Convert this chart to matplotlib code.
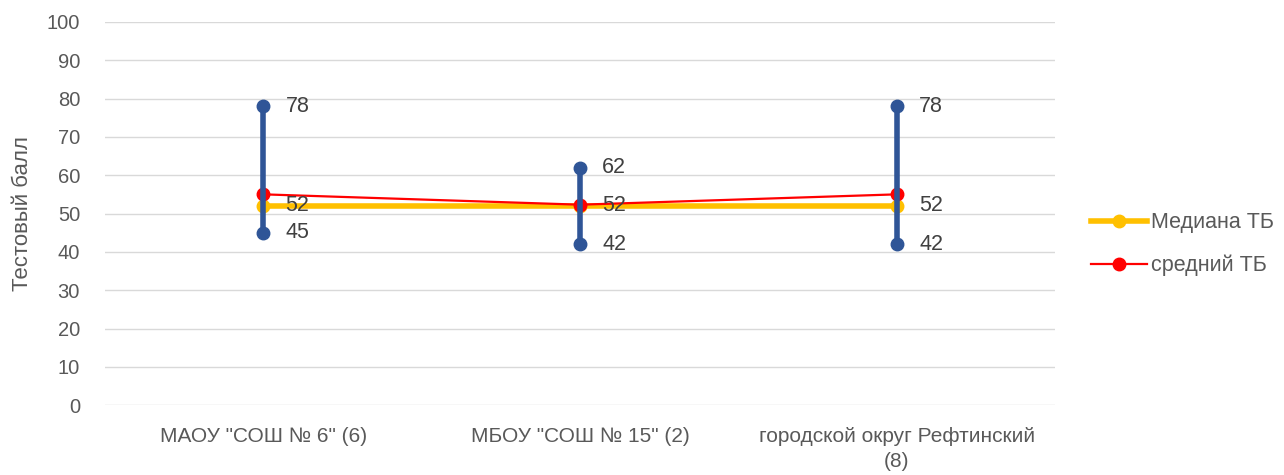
import matplotlib.pyplot as plt

plt.rcParams['font.family'] = ['Liberation Sans', 'DejaVu Sans']

categories = ['МАОУ "СОШ № 6" (6)', 'МБОУ "СОШ № 15" (2)', 'городской округ Рефтинский\n(8)']
max_tb = [78, 62, 78]
min_tb = [45, 42, 42]
median_tb = [52, 52, 52]
mean_tb = [55, 52.3, 55]

text_color = '#595959'
x = list(range(len(categories)))

fig = plt.figure(figsize=(12.84, 4.75), dpi=100)
ax = fig.add_axes([0.0818, 0.147, 0.740, 0.807])

# median and mean lines
ax.plot(x, median_tb, color='#ffc000', lw=4, marker='o', ms=9, zorder=3, label='Медиана ТБ')
ax.plot(x, mean_tb, color='#ff0000', lw=1.6, marker='o', ms=9, zorder=4, label='средний ТБ')

# high-low bars
for i in x:
    ax.plot([i, i], [min_tb[i], max_tb[i]], color='#2f5597', lw=4, marker='o', ms=9, zorder=5)
    for v in (max_tb[i], min_tb[i], median_tb[i]):
        ax.text(i + 0.07, v, str(v), fontsize=15.5, color='#404040', va='center', ha='left', zorder=6)

ax.set_xlim(-0.5, 2.5)
ax.set_ylim(0, 100)
ax.set_yticks(range(0, 101, 10))
ax.set_xticks(x)
ax.set_xticklabels(categories, fontsize=15, color=text_color, linespacing=1.4)
ax.tick_params(axis='y', labelsize=14.5, labelcolor=text_color, length=0, pad=18)
ax.tick_params(axis='x', length=0, pad=16)
ax.grid(axis='y', color='#d9d9d9', lw=1)
ax.set_axisbelow(True)
for s in ax.spines.values():
    s.set_visible(False)
ax.set_ylabel('Тестовый балл', fontsize=16, color=text_color, labelpad=10)

ax.legend(loc='center left', bbox_to_anchor=(1.017, 0.42), frameon=False, fontsize=15.5,
          labelcolor=text_color, handlelength=2.6, handletextpad=0.2, labelspacing=1.0)

plt.savefig('out.png', dpi=100)
